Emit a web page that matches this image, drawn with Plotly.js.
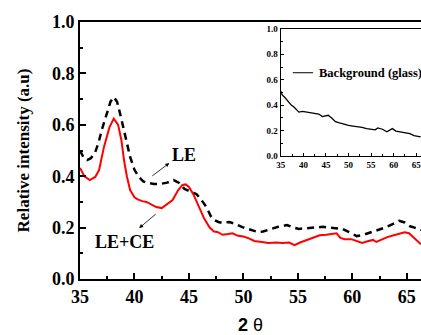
<!DOCTYPE html>
<html><head><meta charset="utf-8">
<script src="https://cdn.plot.ly/plotly-3.0.1.min.js"></script>
<style>html,body{margin:0;padding:0;background:#fff}#c{width:421px;height:335px}</style>
</head><body><div id="c"></div>
<script>
// LE+CE (red solid)
const leceX = [35.0,35.4,35.9,36.4,36.75,37.2,37.7,38.1,38.5,38.8,39.05,39.3,39.6,40.0,40.3,40.7,41.1,41.6,42.0,42.5,43.0,43.5,44.0,44.4,44.7,45.0,45.4,45.9,46.4,46.9,47.3,47.6,48.1,48.6,49.0,49.5,50.0,50.5,51.0,51.7,52.3,53.0,53.6,54.2,54.7,55.2,55.8,56.4,57.0,57.6,58.2,58.55,58.9,59.3,59.9,60.4,60.9,61.4,61.9,62.2,62.7,63.2,63.8,64.3,64.8,65.2,65.7,66.3];
const leceY = [0.432,0.40,0.385,0.397,0.424,0.514,0.59,0.624,0.60,0.54,0.46,0.40,0.346,0.318,0.31,0.303,0.30,0.29,0.28,0.276,0.29,0.307,0.345,0.366,0.368,0.358,0.33,0.285,0.235,0.200,0.185,0.183,0.172,0.175,0.178,0.168,0.165,0.158,0.148,0.144,0.140,0.142,0.140,0.142,0.132,0.142,0.152,0.163,0.170,0.172,0.175,0.178,0.160,0.155,0.155,0.148,0.140,0.147,0.152,0.144,0.155,0.163,0.170,0.175,0.182,0.178,0.160,0.135];
// LE (black dashed)
const leX = [35.0,35.3,35.65,36.0,36.4,36.7,37.0,37.4,37.8,38.1,38.4,38.7,39.0,39.3,39.6,40.0,40.4,40.8,41.2,41.8,42.4,43.0,43.6,44.1,44.6,45.1,45.7,46.1,46.6,47.0,47.3,47.7,48.1,48.7,49.2,49.9,50.5,51.3,51.8,52.6,53.2,54.0,54.6,55.1,55.8,56.7,57.3,57.9,58.5,59.1,59.8,60.4,61.0,61.8,62.4,63.0,63.6,64.3,64.8,65.3,65.7,66.3];
const leY = [0.50,0.475,0.463,0.47,0.494,0.53,0.58,0.64,0.69,0.708,0.69,0.64,0.59,0.53,0.475,0.425,0.397,0.38,0.374,0.37,0.37,0.375,0.385,0.374,0.35,0.34,0.33,0.31,0.28,0.245,0.23,0.222,0.218,0.222,0.215,0.202,0.195,0.183,0.185,0.196,0.203,0.21,0.20,0.195,0.198,0.202,0.203,0.20,0.198,0.195,0.18,0.167,0.172,0.183,0.19,0.20,0.212,0.226,0.22,0.205,0.20,0.19];
// Background (glass) inset
const bgX = [35.0,35.3,35.9,36.7,37.3,37.9,38.5,39.0,39.8,40.5,41.2,41.8,42.5,43.4,44.2,44.9,45.5,46.2,47.1,48.0,49.2,50.0,51.0,52.1,53.0,54.0,54.8,55.9,56.5,57.5,58.5,59.2,59.7,60.5,61.4,62.5,63.6,64.5,65.4,66.0];
const bgY = [0.51,0.48,0.46,0.425,0.40,0.385,0.36,0.345,0.35,0.345,0.345,0.34,0.335,0.33,0.31,0.315,0.32,0.30,0.27,0.26,0.245,0.24,0.235,0.23,0.225,0.215,0.21,0.205,0.22,0.21,0.19,0.205,0.215,0.195,0.19,0.185,0.175,0.16,0.155,0.15];
const labels = {le: 'LE', lece: 'LE+CE', bg: 'Background (glass)', ytitle: 'Relative intensity (a.u)'};

const serifB = {family: 'Liberation Serif, Times New Roman, serif', color: '#000', weight: 700};

const traces = [
  {x: leX, y: leY, type: 'scatter', mode: 'lines', line: {color: '#000', width: 2.5, dash: '7px,5px'}, xaxis: 'x', yaxis: 'y', hoverinfo: 'skip'},
  {x: leceX, y: leceY, type: 'scatter', mode: 'lines', line: {color: '#ff0000', width: 2}, xaxis: 'x', yaxis: 'y', hoverinfo: 'skip'},
  {x: bgX, y: bgY, type: 'scatter', mode: 'lines', line: {color: '#000', width: 1.3}, xaxis: 'x2', yaxis: 'y2', hoverinfo: 'skip'}
];

const layout = {
  width: 421, height: 335,
  margin: {l: 80, r: 0, t: 22, b: 56},
  paper_bgcolor: '#fff', plot_bgcolor: 'rgba(0,0,0,0)',
  showlegend: false,
  xaxis: {
    range: [35, 66.3], domain: [0, 1], dtick: 5, tick0: 35,
    ticks: 'inside', ticklen: 6, tickwidth: 2, tickcolor: '#000',
    minor: {dtick: 2.5, ticks: 'inside', ticklen: 3, tickwidth: 2, tickcolor: '#000'},
    showline: true, linewidth: 2, linecolor: '#000', mirror: true,
    showgrid: false, zeroline: false, ticklabeloverflow: 'allow',
    tickfont: Object.assign({size: 18}, serifB),
    title: {text: '<b>2</b> θ', font: {family: 'Liberation Sans, Arial, sans-serif', size: 18, color: '#000'}, standoff: 13}
  },
  yaxis: {
    range: [0, 1], domain: [0, 1], dtick: 0.2, tickformat: '.1f',
    ticks: 'inside', ticklen: 6, tickwidth: 2, tickcolor: '#000',
    minor: {dtick: 0.1, ticks: 'inside', ticklen: 3, tickwidth: 2, tickcolor: '#000'},
    showline: true, linewidth: 2, linecolor: '#000', mirror: true,
    showgrid: false, zeroline: false,
    tickfont: Object.assign({size: 18}, serifB),
    title: {text: labels.ytitle, font: Object.assign({size: 17}, serifB), standoff: 18}
  },
  xaxis2: {
    anchor: 'y2', domain: [0.589, 1], range: [35, 66.06], dtick: 5, tick0: 35,
    ticks: 'inside', ticklen: 3, tickwidth: 1, tickcolor: '#000',
    minor: {dtick: 2.5, ticks: 'inside', ticklen: 2, tickwidth: 1, tickcolor: '#000'},
    showline: true, linewidth: 1.2, linecolor: '#000', mirror: true,
    showgrid: false, zeroline: false, ticklabeloverflow: 'allow',
    tickfont: Object.assign({size: 9}, serifB)
  },
  yaxis2: {
    anchor: 'x2', domain: [0.479, 0.973], range: [0, 1], dtick: 0.2, tickformat: '.1f',
    ticks: 'inside', ticklen: 3, tickwidth: 1, tickcolor: '#000',
    minor: {dtick: 0.1, ticks: 'inside', ticklen: 2, tickwidth: 1, tickcolor: '#000'},
    showline: true, linewidth: 1.2, linecolor: '#000', mirror: true,
    showgrid: false, zeroline: false,
    tickfont: Object.assign({size: 9}, serifB)
  },
  shapes: [
    {type: 'line', xref: 'x2 domain', yref: 'y2 domain', x0: 0.085, x1: 0.23, y0: 0.655, y1: 0.655, line: {color: '#000', width: 1}}
  ],
  annotations: [
    {xref: 'x2 domain', yref: 'y2 domain', x: 0.26, y: 0.655, xanchor: 'left', yanchor: 'middle', showarrow: false, text: labels.bg, font: Object.assign({size: 12.5}, serifB)},
    {xref: 'x', yref: 'y', x: 44.57, y: 0.482, showarrow: false, text: labels.le, font: Object.assign({size: 18}, serifB)},
    {xref: 'x', yref: 'y', x: 39.05, y: 0.144, showarrow: false, text: labels.lece, font: Object.assign({size: 18}, serifB)},
    {xref: 'x', yref: 'y', x: 43.2, y: 0.451, axref: 'x', ayref: 'y', ax: 41.5, ay: 0.397, text: '', showarrow: true, arrowhead: 2, arrowsize: 1, arrowwidth: 0.8, arrowcolor: '#000'},
    {xref: 'x', yref: 'y', x: 40.43, y: 0.198, axref: 'x', ayref: 'y', ax: 42.08, ay: 0.257, text: '', showarrow: true, arrowhead: 2, arrowsize: 1, arrowwidth: 0.8, arrowcolor: '#000'}
  ]
};

Plotly.newPlot('c', traces, layout, {staticPlot: true, displayModeBar: false});
</script>
</body></html>
